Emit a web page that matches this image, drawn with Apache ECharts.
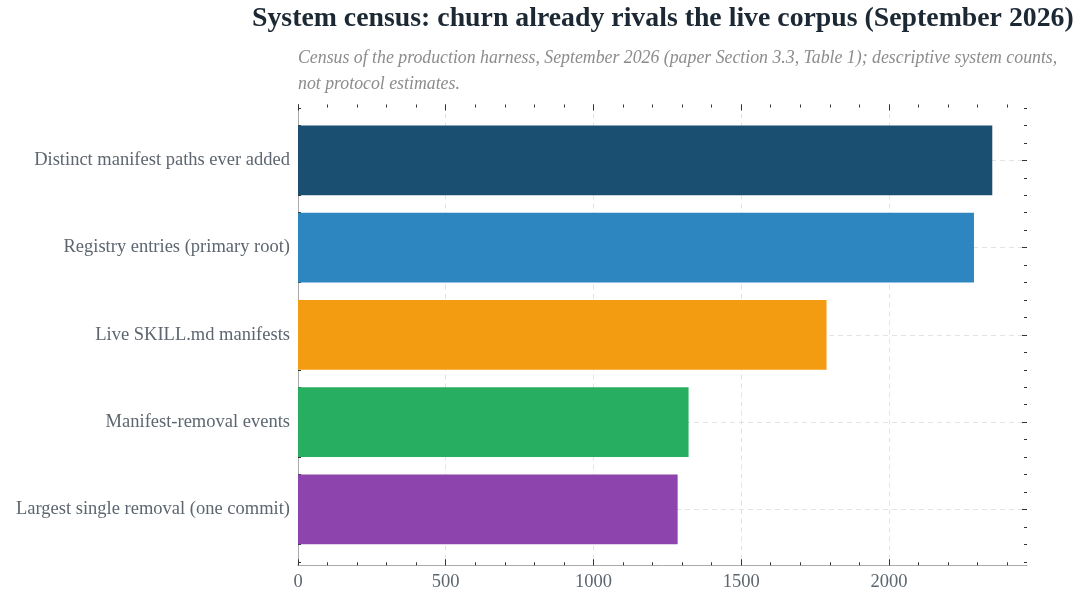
<!DOCTYPE html>
<html>
<head>
<meta charset="utf-8">
<script src="https://cdn.jsdelivr.net/npm/echarts@6/dist/echarts.min.js"></script>
<style>html,body{margin:0;padding:0;background:#fff;}#chart{width:1081px;height:599px;}</style>
</head>
<body>
<div id="chart"></div>
<script>
const categories = [
  'Distinct manifest paths ever added',
  'Registry entries (primary root)',
  'Live SKILL.md manifests',
  'Manifest-removal events',
  'Largest single removal (one commit)'
];
const values = [2350, 2288, 1789, 1322, 1285];
const barColors = ['#1b4f72', '#2e86c1', '#f39c12', '#27ae60', '#8e44ad'];
const xTicks = [0, 500, 1000, 1500, 2000];
const xMinorTicks = [0,100,200,300,400,500,600,700,800,900,1000,1100,1200,1300,1400,1500,1600,1700,1800,1900,2000,2100,2200,2300,2400];
const yTicks = [0, 1, 2, 3, 4];
const yMinorTicks = [-0.6,-0.4,-0.2,0.2,0.4,0.6,0.8,1.2,1.4,1.6,1.8,2.2,2.4,2.6,2.8,3.2,3.4,3.6,3.8,4.2,4.4,4.6];
const titleText = 'System census: churn already rivals the live corpus (September 2026)';
const subtitleText = 'Census of the production harness, September 2026 (paper Section 3.3, Table 1); descriptive system counts,\nnot protocol estimates.';

const xMax = Math.max(...values) * 1.05;
const yMin = -0.64, yMax = 4.64;
const FONT = '"Liberation Serif", "DejaVu Serif", serif';
const tickColor = '#333';
const lineColor = '#aaaaaa';
const gridStyle = { show: true, lineStyle: { color: '#e3e3e3', type: [5, 4], width: 1 } };

const frameTop = 104.5, frameBottom = 33.7;
const band = (599 - frameTop - frameBottom) / (yMax - yMin);
const pad = (-0.5 - yMin) * band;

function xAx(opts) {
  return Object.assign({
    type: 'value', min: 0, max: xMax,
    axisLine: { show: false, onZero: false }, axisLabel: { show: false }, splitLine: { show: false },
    axisTick: { show: false }
  }, opts);
}
function yAx(opts) {
  return Object.assign({
    type: 'value', min: yMin, max: yMax, inverse: true,
    axisLine: { show: false, onZero: false }, axisLabel: { show: false }, splitLine: { show: false },
    axisTick: { show: false }
  }, opts);
}
function ticks(vals, len) {
  return { show: true, inside: true, length: len, customValues: vals, lineStyle: { color: tickColor, width: 1 } };
}

const chart = echarts.init(document.getElementById('chart'), null, { renderer: 'canvas' });
chart.setOption({
  animation: false,
  backgroundColor: '#ffffff',
  title: [
    { text: titleText, left: 252, top: 5, padding: 0,
      textStyle: { fontFamily: FONT, fontSize: 27.8, fontWeight: 'bold', color: '#1c2833' } },
    { text: subtitleText, left: 298, top: 45, padding: 0,
      textStyle: { fontFamily: FONT, fontSize: 17.8, fontStyle: 'italic', fontWeight: 'normal', color: '#8c8c8c', lineHeight: 26 } }
  ],
  grid: [
    { left: 298, right: 54, top: frameTop, bottom: frameBottom, containLabel: false },
    { left: 298, right: 54, top: frameTop, bottom: frameBottom, containLabel: false },
    { left: 298, right: 54, top: frameTop + pad, bottom: frameBottom + pad, containLabel: false }
  ],
  xAxis: [
    xAx({ gridIndex: 0, position: 'bottom',
      axisLine: { show: true, onZero: false, lineStyle: { color: lineColor, width: 1 } },
      axisTick: ticks(xTicks, 6),
      axisLabel: { show: true, customValues: xTicks, margin: 7, fontFamily: FONT, fontSize: 18.5, color: '#5d6670',
        formatter: v => String(v) },
      splitLine: gridStyle }),
    xAx({ gridIndex: 0, position: 'top', axisTick: ticks(xTicks, 6) }),
    xAx({ gridIndex: 1, position: 'bottom', axisTick: ticks(xMinorTicks, 3) }),
    xAx({ gridIndex: 1, position: 'top', axisTick: ticks(xMinorTicks, 3) }),
    { type: 'value', gridIndex: 2, min: 0, max: xMax, show: false }
  ],
  yAxis: [
    yAx({ gridIndex: 0, position: 'left',
      axisLine: { show: true, onZero: false, lineStyle: { color: lineColor, width: 1 } },
      axisTick: ticks(yTicks, 6),
      splitLine: gridStyle }),
    yAx({ gridIndex: 0, position: 'right', axisTick: ticks(yTicks, 5) }),
    yAx({ gridIndex: 1, position: 'left', axisTick: ticks(yMinorTicks, 3) }),
    yAx({ gridIndex: 1, position: 'right', axisTick: ticks(yMinorTicks, 3) }),
    { type: 'category', gridIndex: 2, data: categories, inverse: true, position: 'left',
      axisLine: { show: false, onZero: false }, axisTick: { show: false }, splitLine: { show: false },
      axisLabel: { show: true, margin: 8, fontFamily: FONT, fontSize: 18.5, color: '#5d6670' } }
  ],
  series: [{
    type: 'bar', xAxisIndex: 4, yAxisIndex: 4,
    barCategoryGap: '20%',
    data: values.map((v, i) => ({ value: v, itemStyle: { color: barColors[i] } })),
    z: 3
  }]
});
</script>
</body>
</html>
